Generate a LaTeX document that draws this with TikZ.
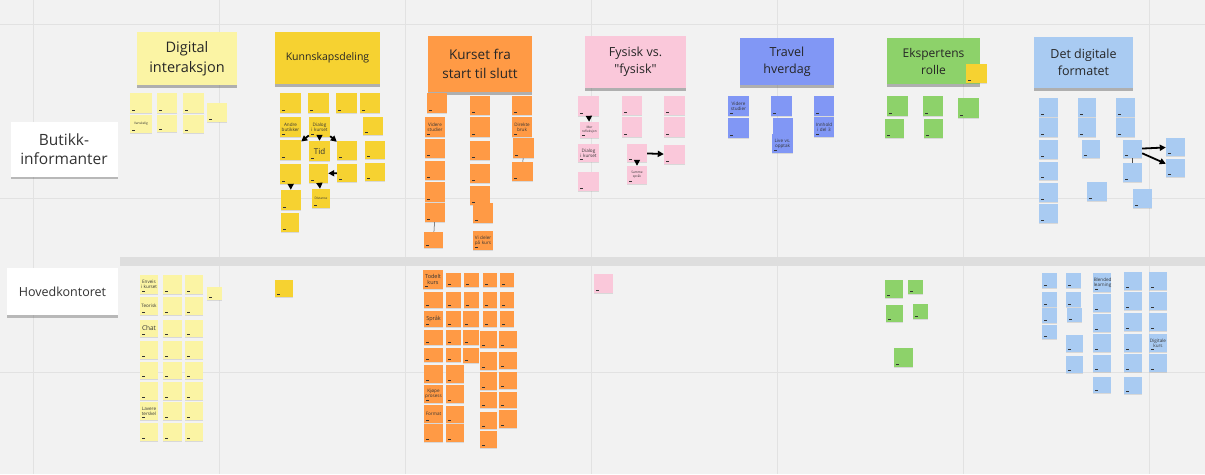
\documentclass[tikz,border=0pt]{standalone}
\usepackage{fontspec}
\setmainfont{Open Sans}[Ligatures=TeXOff]
\usetikzlibrary{arrows.meta,shadows}
\definecolor{ly}{HTML}{FBF4A4}
\definecolor{yl}{HTML}{F6D231}
\definecolor{orn}{HTML}{FF9A45}
\definecolor{pk}{HTML}{FAC8DA}
\definecolor{bl}{HTML}{8197F5}
\definecolor{gr}{HTML}{8DD26A}
\definecolor{lb}{HTML}{A9CBF2}
\definecolor{bgc}{HTML}{F2F2F2}
\definecolor{gridc}{HTML}{E2E2E2}
\definecolor{sepc}{HTML}{DEDEDE}
\tikzset{
  sticky/.style={draw=none, inner sep=0.5pt, align=center, text=black!80,
    font=\fontsize{3.2}{3.7}\selectfont,
    drop shadow={opacity=0.22, shadow xshift=0pt, shadow yshift=-0.9pt}},
  header/.style={draw=none, inner sep=1pt, align=center, text=black!85,
    drop shadow={opacity=0.4, shadow xshift=0pt, shadow yshift=-2.5pt, fill=black!70}},
  rowcard/.style={fill=white, draw=none, inner sep=1pt, align=center, text=black!80,
    drop shadow={opacity=0.35, shadow xshift=0pt, shadow yshift=-2.5pt, fill=black!70}},
  arr/.style={-{Triangle[length=6pt,width=6pt]}, line width=1.8pt, black},
  thinline/.style={line width=0.5pt, black!70},
  gridline/.style={gridc, line width=0.6pt},
  fb/.style={font=\fontsize{4.6}{5.2}\selectfont},
}
\newcommand{\snote}[7][]{%
  \pgfmathsetmacro{\snw}{#6-#4}\pgfmathsetmacro{\snh}{#7-#5}%
  \pgfmathsetmacro{\snt}{#6-#4-1.5}%
  \pgfmathsetmacro{\snx}{(#4+#6)/2}\pgfmathsetmacro{\sny}{(#5+#7)/2}%
  \snotebody{#1}{#2}{#3}{#4}{#7}%
}
\newcommand{\snotebody}[6]{%
  \node[sticky, fill=#3, minimum width=\snw pt, minimum height=\snh pt, text width=\snt pt, #1] (#2) at (\snx,\sny) {#6};
  \fill[black!80] ({#4+1.5},{#5-3.2}) rectangle ({#4+5},{#5-1.8});
}
\newcommand{\hnote}[8]{%
  \pgfmathsetmacro{\snw}{#5-#3}\pgfmathsetmacro{\snh}{#6-#4}%
  \pgfmathsetmacro{\snx}{(#3+#5)/2}\pgfmathsetmacro{\sny}{(#4+#6)/2}%
  \node[header, fill=#2, minimum width=\snw pt, minimum height=\snh pt, font=#7] (#1) at (\snx,\sny) {#8};
}
\begin{document}
\begin{tikzpicture}[x=1pt,y=-1pt]
\useasboundingbox (0,0) rectangle (1205,474);
\fill[bgc] (0,0) rectangle (1205,474);
\foreach \gx in {33,219,405,591,777,963,1149} \draw[gridline] (\gx,0) -- (\gx,474);
\foreach \gy in {24,198,372} \draw[gridline] (0,\gy) -- (1205,\gy);
\fill[sepc] (120,257) rectangle (1205,266);

% row labels
\node[rowcard, minimum width=107pt, minimum height=55pt, font=\fontsize{15.5}{19}\selectfont] (rowA) at (64,149) {Butikk-\\informanter};
\node[rowcard, minimum width=111pt, minimum height=47pt, font=\fontsize{12.5}{15}\selectfont] (rowB) at (62.5,291.5) {Hovedkontoret};

% headers
\hnote{hA}{ly}{137}{32}{237}{85}{\fontsize{14.5}{20}\selectfont}{Digital\\interaksjon}
\hnote{hB}{yl}{275}{32}{380}{84}{\fontsize{10.5}{13}\selectfont}{Kunnskapsdeling}
\hnote{hC}{orn}{428}{36}{532}{92}{\fontsize{13.5}{19}\selectfont}{Kurset fra\\start til slutt}
\hnote{hD}{pk}{585}{36}{686}{88}{\fontsize{12.5}{17}\selectfont}{Fysisk vs.\\"fysisk"}
\hnote{hE}{bl}{740}{38}{834}{85}{\fontsize{12.5}{17}\selectfont}{Travel\\hverdag}
\hnote{hF}{gr}{887}{38}{980}{84}{\fontsize{12}{17}\selectfont}{Ekspertens\\rolle}
\snote{hFs}{yl}{966}{64}{987}{83}{}
\hnote{hG}{lb}{1034}{37}{1133}{88}{\fontsize{12.5}{17}\selectfont}{Det digitale\\formatet}

% ===== Butikkinformanter =====
% Digital interaksjon
\snote{dA1}{ly}{130}{93}{152}{113}{}
\snote{dA2}{ly}{157}{93}{177}{113}{}
\snote{dA3}{ly}{183}{93}{204}{113}{}
\snote{dA4}{ly}{207}{103}{227}{122}{}
\snote{dB1}{ly}{130}{115}{152}{133}{Vanskelig}
\snote{dB2}{ly}{157}{115}{177}{132}{}
\snote{dB3}{ly}{183}{115}{204}{133}{}
% Kunnskapsdeling
\snote{k11}{yl}{280}{93}{301}{113}{}
\snote{k12}{yl}{308}{93}{329}{113}{}
\snote{k13}{yl}{336}{93}{357}{113}{}
\snote{k14}{yl}{360}{93}{380}{113}{}
\snote[fb]{k21}{yl}{280}{117}{301}{137}{Andre\\butikker}
\snote[fb]{k22}{yl}{309}{117}{330}{137}{Dialog\\i kurset}
\snote{k24}{yl}{363}{117}{383}{135}{}
\snote{k31}{yl}{280}{140}{301}{160}{}
\snote[font=\fontsize{8}{9}\selectfont]{k32}{yl}{309}{141}{330}{161}{Tid}
\snote{k33}{yl}{337}{141}{357}{160}{}
\snote{k34}{yl}{365}{141}{385}{159}{}
\snote{k41}{yl}{280}{164}{301}{184}{}
\snote{k42}{yl}{309}{164}{328}{183}{}
\snote{k43}{yl}{337}{164}{357}{182}{}
\snote{k44}{yl}{365}{163}{385}{181}{}
\snote{k51}{yl}{281}{190}{301}{210}{}
\snote{k52}{yl}{312}{189}{330}{208}{Distanse}
\snote{k61}{yl}{281}{213}{299}{232}{}
\draw[arr] (k22) -- (k31);
\draw[arr] (k22) -- (k32);
\draw[arr] (k22) -- (k33);
\draw[arr] (k41) -- (k51);
\draw[arr] (k42) -- (k52);
\draw[arr] (k43) -- (k42);
% Kurset
\snote{c11}{orn}{427}{93}{447}{113}{}
\snote[fb]{c12}{orn}{425}{117}{445}{137}{Videre\\studier}
\snote{c13}{orn}{425}{139}{445}{158}{}
\snote{c14}{orn}{425}{161}{445}{180}{}
\snote{c15}{orn}{425}{182}{445}{202}{}
\snote{c16}{orn}{425}{203}{445}{222}{}
\snote{c17}{orn}{424}{232}{443}{248}{}
\snote{c21}{orn}{470}{96}{490}{115}{}
\snote{c22}{orn}{470}{117}{490}{137}{}
\snote{c23}{orn}{470}{141}{490}{160}{}
\snote{c24}{orn}{470}{164}{490}{183}{}
\snote{c25}{orn}{470}{186}{490}{205}{}
\snote{c26}{orn}{473}{203}{493}{223}{}
\snote[fb]{c27}{orn}{473}{231}{493}{250}{Vi deler\\på kurs}
\snote{c31}{orn}{512}{96}{532}{115}{}
\snote[fb]{c32}{orn}{512}{117}{532}{137}{Direkte\\bruk}
\snote{c33}{orn}{513}{138}{534}{158}{}
\snote{c34}{orn}{512}{162}{533}{181}{}
\draw[thinline] (c16) -- (c17);
\draw[thinline] (c33) -- (c34);
% Fysisk
\snote{f11}{pk}{578}{96}{599}{116}{}
\snote{f12}{pk}{580}{122}{599}{138}{Mer\\refleksjon}
\snote[fb]{f13}{pk}{578}{144}{599}{162}{Dialog\\i kurset}
\snote{f14}{pk}{578}{172}{599}{191}{}
\snote{f21}{pk}{622}{96}{642}{115}{}
\snote{f22}{pk}{622}{117}{642}{137}{}
\snote{f32}{pk}{627}{144}{647}{162}{}
\snote{f42}{pk}{627}{166}{647}{184}{Samme\\språk}
\snote{f31}{pk}{664}{96}{685}{115}{}
\snote{f35}{pk}{664}{117}{685}{137}{}
\snote{f33}{pk}{664}{145}{685}{164}{}
\draw[arr] (f11) -- (f12);
\draw[arr] (f32) -- (f33);
\draw[arr] (f32) -- (f42);
% Travel
\snote[fb]{t11}{bl}{728}{96}{749}{116}{Videre\\studier}
\snote{t12}{bl}{728}{118}{749}{138}{}
\snote{t21}{bl}{771}{96}{792}{116}{}
\snote{t22}{bl}{773}{118}{793}{137}{}
\snote[fb]{t23}{bl}{772}{134}{793}{153}{Live vs.\\opptak}
\snote{t31}{bl}{814}{96}{834}{116}{}
\snote[fb]{t32}{bl}{814}{117}{834}{137}{Innhold\\i del 3}
% Ekspertens
\snote{e11}{gr}{887}{96}{908}{116}{}
\snote{e12}{gr}{885}{119}{904}{138}{}
\snote{e21}{gr}{923}{96}{943}{116}{}
\snote{e22}{gr}{924}{119}{943}{138}{}
\snote{e31}{gr}{958}{98}{979}{118}{}
% Det digitale
\snote{g11}{lb}{1039}{98}{1058}{117}{}
\snote{g12}{lb}{1039}{118}{1058}{137}{}
\snote{g13}{lb}{1039}{140}{1058}{159}{}
\snote{g14}{lb}{1039}{162}{1058}{180}{}
\snote{g15}{lb}{1039}{183}{1058}{202}{}
\snote{g16}{lb}{1039}{204}{1058}{223}{}
\snote{g21}{lb}{1078}{98}{1096}{117}{}
\snote{g22}{lb}{1078}{118}{1096}{137}{}
\snote{g23}{lb}{1082}{140}{1100}{158}{}
\snote{g24}{lb}{1087}{182}{1107}{201}{}
\snote{g31}{lb}{1116}{98}{1135}{117}{}
\snote{g32}{lb}{1116}{118}{1135}{137}{}
\snote{g33}{lb}{1123}{140}{1142}{158}{}
\snote{g34}{lb}{1123}{163}{1142}{182}{}
\snote{g35}{lb}{1133}{189}{1152}{208}{}
\snote{g41}{lb}{1166}{138}{1185}{156}{}
\snote{g42}{lb}{1166}{159}{1185}{177}{}
\draw[arr] (g33) -- (g41);
\draw[arr] (g33) -- (g42);
\draw[thinline] (g33) -- (g34);

% ===== Hovedkontoret =====
% Digital interaksjon
\snote[fb]{h11}{ly}{140}{275}{158}{294}{Enveis\\i kurset}
\snote[fb]{h12}{ly}{140}{297}{158}{315}{Teorisk}
\snote[font=\fontsize{6.5}{7}\selectfont]{h13}{ly}{140}{320}{158}{337}{Chat}
\snote{h14}{ly}{140}{341}{158}{359}{}
\snote{h15}{ly}{140}{362}{158}{379}{}
\snote{h16}{ly}{140}{382}{158}{400}{}
\snote[fb]{h17}{ly}{140}{402}{158}{420}{Lavere\\terskel}
\snote{h18}{ly}{140}{423}{158}{441}{}
\snote{h21}{ly}{163}{275}{182}{294}{}
\snote{h22}{ly}{163}{297}{182}{315}{}
\snote{h23}{ly}{163}{320}{182}{337}{}
\snote{h24}{ly}{163}{341}{182}{359}{}
\snote{h25}{ly}{163}{362}{182}{379}{}
\snote{h26}{ly}{163}{382}{182}{400}{}
\snote{h27}{ly}{163}{402}{182}{420}{}
\snote{h28}{ly}{163}{423}{182}{441}{}
\snote{h31}{ly}{185}{275}{203}{294}{}
\snote{h32}{ly}{185}{297}{203}{315}{}
\snote{h33}{ly}{185}{320}{203}{337}{}
\snote{h34}{ly}{185}{341}{203}{359}{}
\snote{h35}{ly}{185}{362}{203}{379}{}
\snote{h36}{ly}{185}{382}{203}{400}{}
\snote{h37}{ly}{185}{402}{203}{420}{}
\snote{h38}{ly}{185}{423}{203}{441}{}
\snote{h41}{ly}{207}{287}{222}{300}{}
% Kunnskapsdeling
\snote{kh1}{yl}{275}{280}{293}{297}{}
% Kurset
\snote[font=\fontsize{5.5}{6}\selectfont]{m11}{orn}{423}{270}{443}{289}{Todelt\\kurs}
\snote{m12}{orn}{424}{292}{443}{308}{}
\snote[font=\fontsize{5.5}{6}\selectfont]{m13}{orn}{424}{311}{443}{327}{Språk}
\snote{m14}{orn}{424}{330}{443}{345}{}
\snote{m15}{orn}{424}{348}{443}{362}{}
\snote{m16}{orn}{424}{365}{443}{383}{}
\snote[fb]{m17}{orn}{424}{385}{443}{403}{Kjøpe\\prosess}
\snote[fb]{m18}{orn}{424}{405}{443}{423}{Format}
\snote{m19}{orn}{424}{424}{443}{442}{}
\snote{m21}{orn}{446}{273}{461}{287}{}
\snote{m22}{orn}{446}{292}{461}{308}{}
\snote{m23}{orn}{446}{311}{461}{327}{}
\snote{m24}{orn}{446}{330}{461}{345}{}
\snote{m25}{orn}{446}{348}{461}{362}{}
\snote{m26}{orn}{446}{365}{464}{383}{}
\snote{m27}{orn}{446}{385}{464}{403}{}
\snote{m28}{orn}{446}{406}{464}{423}{}
\snote{m29}{orn}{446}{424}{464}{442}{}
\snote{m31}{orn}{464}{273}{479}{287}{}
\snote{m32}{orn}{464}{292}{479}{308}{}
\snote{m33}{orn}{463}{311}{479}{327}{}
\snote{m34}{orn}{463}{330}{479}{345}{}
\snote{m35}{orn}{463}{348}{479}{363}{}
\snote{m41}{orn}{483}{273}{497}{287}{}
\snote{m42}{orn}{483}{292}{497}{308}{}
\snote{m43}{orn}{483}{311}{497}{327}{}
\snote{m44}{orn}{480}{331}{497}{348}{}
\snote{m45}{orn}{480}{352}{497}{370}{}
\snote{m46}{orn}{480}{372}{497}{390}{}
\snote{m47}{orn}{480}{392}{497}{408}{}
\snote{m48}{orn}{480}{412}{497}{429}{}
\snote{m49}{orn}{480}{431}{497}{448}{}
\snote{m51}{orn}{500}{273}{514}{287}{}
\snote{m52}{orn}{500}{292}{514}{308}{}
\snote{m53}{orn}{500}{311}{514}{327}{}
\snote{m54}{orn}{499}{331}{517}{348}{}
\snote{m55}{orn}{499}{352}{517}{369}{}
\snote{m56}{orn}{499}{372}{517}{389}{}
\snote{m57}{orn}{499}{392}{517}{408}{}
\snote{m58}{orn}{499}{410}{517}{428}{}
% Fysisk
\snote{fh1}{pk}{594}{274}{613}{293}{}
% Ekspertens
\snote{eh1}{gr}{885}{280}{903}{298}{}
\snote{eh2}{gr}{908}{280}{923}{294}{}
\snote{eh3}{gr}{886}{305}{903}{322}{}
\snote{eh4}{gr}{913}{304}{928}{319}{}
\snote{eh5}{gr}{894}{348}{913}{367}{}
% Det digitale
\snote{n11}{lb}{1042}{273}{1057}{288}{}
\snote{n12}{lb}{1042}{292}{1057}{307}{}
\snote{n13}{lb}{1042}{308}{1057}{323}{}
\snote{n14}{lb}{1042}{325}{1057}{339}{}
\snote{n21}{lb}{1066}{273}{1081}{288}{}
\snote{n22}{lb}{1066}{292}{1081}{307}{}
\snote{n23}{lb}{1067}{308}{1082}{322}{}
\snote{n24}{lb}{1066}{335}{1083}{352}{}
\snote{n25}{lb}{1066}{356}{1083}{373}{}
\snote[fb]{n31}{lb}{1093}{273}{1111}{292}{Blended\\learning}
\snote{n32}{lb}{1093}{294}{1111}{312}{}
\snote{n33}{lb}{1093}{314}{1111}{332}{}
\snote{n34}{lb}{1093}{334}{1111}{352}{}
\snote{n35}{lb}{1093}{355}{1111}{372}{}
\snote{n36}{lb}{1093}{377}{1111}{393}{}
\snote{n41}{lb}{1124}{272}{1142}{290}{}
\snote{n42}{lb}{1124}{292}{1142}{310}{}
\snote{n43}{lb}{1124}{313}{1142}{331}{}
\snote{n44}{lb}{1124}{334}{1142}{352}{}
\snote{n45}{lb}{1124}{354}{1142}{372}{}
\snote{n46}{lb}{1124}{377}{1142}{394}{}
\snote{n51}{lb}{1149}{272}{1167}{290}{}
\snote{n52}{lb}{1149}{292}{1167}{310}{}
\snote{n53}{lb}{1149}{313}{1167}{331}{}
\snote[fb]{n54}{lb}{1149}{334}{1167}{352}{Digitale\\kurs}
\snote{n55}{lb}{1149}{354}{1167}{372}{}
\end{tikzpicture}
\end{document}
